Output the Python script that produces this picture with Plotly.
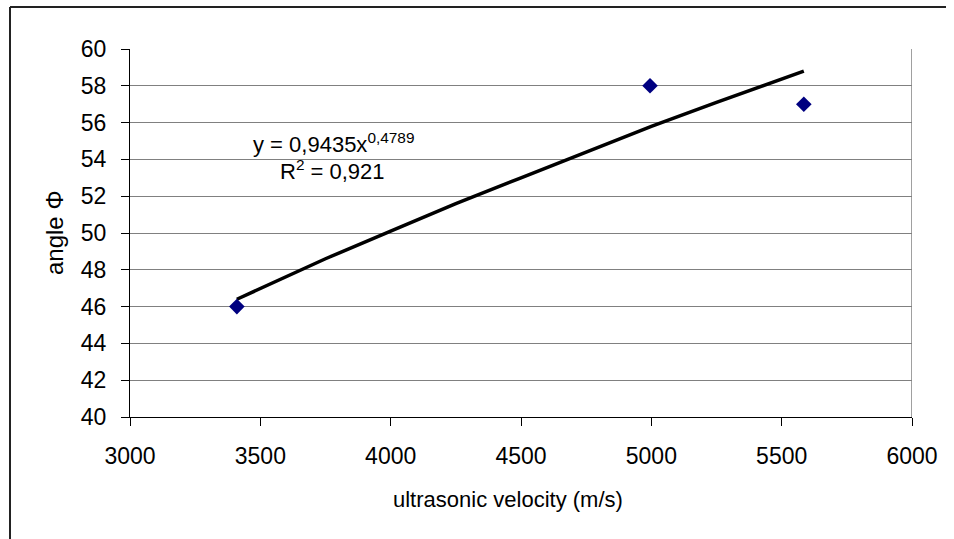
import plotly.graph_objects as go

# Measured data points
vel = [3410, 4995, 5585]
angle = [46.0, 58.0, 57.0]

# Power trendline, values
trend_x = [3410, 3750, 4000, 4250, 4500, 4750, 5000, 5250, 5585]
trend_y = [46.4, 48.6, 50.1, 51.6, 53.0, 54.4, 55.8, 57.1, 58.8]

x_ticks = [3000, 3500, 4000, 4500, 5000, 5500, 6000]
y_ticks = [40, 42, 44, 46, 48, 50, 52, 54, 56, 58, 60]

W, H = 954, 539
ML, MR, MT, MB = 130, 42, 49, 122
PW, PH = W - ML - MR, H - MT - MB

def px_x(p):
    return (p - ML) / PW

def px_y(p):
    return (H - MB - p) / PH

FONT = "Liberation Sans, Arial, sans-serif"

fig = go.Figure()
fig.add_trace(go.Scatter(x=trend_x, y=trend_y, mode="lines",
                         line=dict(color="black", width=3.5), showlegend=False,
                         hoverinfo="skip"))
fig.add_trace(go.Scatter(x=vel, y=angle, mode="markers",
                         marker=dict(symbol="diamond", size=12, color="#000080",
                                     line=dict(width=0)),
                         showlegend=False))

fig.update_layout(
    width=W, height=H,
    margin=dict(l=ML, r=MR, t=MT, b=MB, pad=0),
    paper_bgcolor="white", plot_bgcolor="white",
    font=dict(family=FONT, size=22, color="black"),
    xaxis=dict(range=[3000, 6000], tickvals=x_ticks, ticks="outside", ticklen=8,
               tickcolor="black", showgrid=False, zeroline=False,
               showline=True, linecolor="black", linewidth=1,
               tickfont=dict(size=23), ticklabelstandoff=10),
    yaxis=dict(range=[40, 60], tickvals=y_ticks, ticks="outside", ticklen=8,
               tickcolor="black", showgrid=True, gridcolor="#808080", gridwidth=1,
               zeroline=False, showline=True, linecolor="black", linewidth=1,
               tickfont=dict(size=23), ticklabelstandoff=10),
    shapes=[
        dict(type="line", xref="x", yref="y", x0=6000, x1=6000, y0=40, y1=60,
             line=dict(color="#808080", width=1.5), layer="below"),
        dict(type="line", xref="paper", yref="paper", x0=px_x(10), x1=px_x(946),
             y0=px_y(7), y1=px_y(7), line=dict(color="#222222", width=2)),
        dict(type="line", xref="paper", yref="paper", x0=px_x(10), x1=px_x(10),
             y0=px_y(7), y1=px_y(540), line=dict(color="#222222", width=2)),
    ],
    annotations=[
        dict(xref="paper", yref="paper", x=px_x(508), y=px_y(499),
             text="ultrasonic velocity (m/s)", showarrow=False,
             font=dict(size=22), xanchor="center", yanchor="middle"),
        dict(xref="paper", yref="paper", x=px_x(54), y=px_y(233),
             text="angle Φ", showarrow=False, textangle=-90,
             font=dict(size=24), xanchor="center", yanchor="middle"),
        dict(xref="paper", yref="paper", x=px_x(333), y=px_y(143),
             text="y = 0,9435x<sup>0,4789</sup>", showarrow=False,
             font=dict(size=22), xanchor="center", yanchor="middle"),
        dict(xref="paper", yref="paper", x=px_x(332), y=px_y(170),
             text="R<sup>2</sup> = 0,921", showarrow=False,
             font=dict(size=22), xanchor="center", yanchor="middle"),
    ],
)

fig.write_html("out.html")
